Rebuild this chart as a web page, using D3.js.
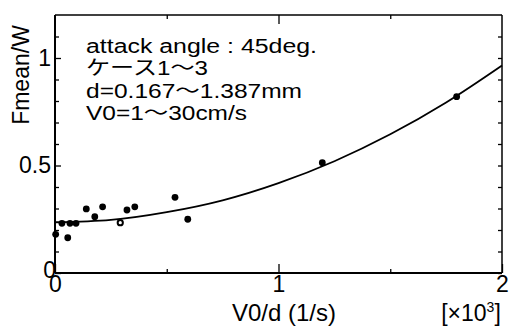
<!DOCTYPE html>
<html>
<head>
<meta charset="utf-8">
<script src="https://cdn.jsdelivr.net/npm/d3@7"></script>
<style>
body { margin: 0; background: #fff; }
text { font-family: "Liberation Sans", Arial, "Noto Sans CJK JP", sans-serif; fill: #000; }
</style>
</head>
<body>
<svg id="viz"></svg>
<script>
var width = 510;
var height = 328;

// measured points, V0/d in [x10^3 1/s]
var pointX = [0.003, 0.031, 0.057, 0.067, 0.094, 0.14, 0.178, 0.213, 0.292, 0.322, 0.357, 0.537, 0.594, 1.196, 1.797];
var pointY = [0.180, 0.231, 0.164, 0.231, 0.231, 0.298, 0.262, 0.308, 0.234, 0.293, 0.308, 0.352, 0.250, 0.513, 0.820];
var hollow = [false, false, false, false, false, false, false, false, true, false, false, false, false, false, false];

// fitted curve
var curveX = [0, 0.25, 0.5, 0.75, 1, 1.25, 1.5, 1.75, 2];
var curveY = [0.236, 0.247, 0.283, 0.338, 0.418, 0.52, 0.645, 0.793, 0.965];

var xMajor = [0, 1, 2];
var xMinor = [0.5, 1.5];
var yMajor = [0, 0.5, 1];
var yMinor = [0.1, 0.2, 0.3, 0.4, 0.6, 0.7, 0.8, 0.9, 1.1];

var notes = ["attack angle : 45deg.", "ケース1〜3", "d=0.167〜1.387mm", "V0=1〜30cm/s"];
// printed widths of the note lines (the source type is a bit wide)
var noteWidth = [231, 122, 216, 161];

var fs = 23;

var svg = d3.select("#viz").attr("width", width).attr("height", height);

var x = d3.scaleLinear().domain([0, 2]).range([55, 502]);
var y = d3.scaleLinear().domain([0, 1.2]).range([273, 15]);

function style(g) {
    g.select(".domain").remove();
    g.selectAll("line").attr("stroke", "#000").attr("stroke-width", 1.3);
    g.selectAll("text").attr("font-size", fs).attr("fill", "#000");
}

// bottom
svg.append("g").attr("transform", "translate(0,273)")
    .call(d3.axisBottom(x).tickValues(xMajor).tickSize(-9).tickPadding(3).tickFormat(d3.format("d")))
    .call(style);
svg.append("g").attr("transform", "translate(0,273)")
    .call(d3.axisBottom(x).tickValues(xMinor).tickSize(-4).tickFormat(""))
    .call(style);
// top
svg.append("g").attr("transform", "translate(0,15)")
    .call(d3.axisTop(x).tickValues([1]).tickSize(-9).tickFormat(""))
    .call(style);
svg.append("g").attr("transform", "translate(0,15)")
    .call(d3.axisTop(x).tickValues(xMinor).tickSize(-4).tickFormat(""))
    .call(style);
// left
var yAxis = svg.append("g").attr("transform", "translate(55,0)")
    .call(d3.axisLeft(y).tickValues(yMajor).tickSize(-6).tickPadding(4).tickFormat(function (d) { return d; }))
    .call(style);
// the y zero sits a little lower and closer to the axis
yAxis.selectAll(".tick").filter(function (d) { return d === 0; }).select("text")
    .attr("x", 1).attr("dy", "0.2em");
svg.append("g").attr("transform", "translate(55,0)")
    .call(d3.axisLeft(y).tickValues(yMinor).tickSize(-4).tickFormat(""))
    .call(style);
// right
svg.append("g").attr("transform", "translate(502,0)")
    .call(d3.axisRight(y).tickValues(yMajor.concat(yMinor)).tickSize(-4).tickFormat(""))
    .call(style);

// frame
svg.append("line").attr("x1", 55).attr("x2", 55).attr("y1", 15).attr("y2", 273).attr("stroke", "#000").attr("stroke-width", 2);
svg.append("line").attr("x1", 55).attr("x2", 502).attr("y1", 273).attr("y2", 273).attr("stroke", "#000").attr("stroke-width", 2);
svg.append("line").attr("x1", 55).attr("x2", 502).attr("y1", 15).attr("y2", 15).attr("stroke", "#000").attr("stroke-width", 1.5);
svg.append("line").attr("x1", 502).attr("x2", 502).attr("y1", 15).attr("y2", 273).attr("stroke", "#000").attr("stroke-width", 1.5);

// curve
var line = d3.line()
    .x(function (d, i) { return x(curveX[i]); })
    .y(function (d, i) { return y(curveY[i]); })
    .curve(d3.curveMonotoneX);
svg.append("path").datum(curveX).attr("d", line)
    .attr("fill", "none").attr("stroke", "#000").attr("stroke-width", 1.8);

// points
svg.append("g").selectAll("circle")
    .data(pointX)
    .enter().append("circle")
    .attr("cx", function (d) { return x(d); })
    .attr("cy", function (d, i) { return y(pointY[i]); })
    .attr("r", function (d, i) { return hollow[i] ? 2.6 : 3.4; })
    .attr("fill", function (d, i) { return hollow[i] ? "#fff" : "#000"; })
    .attr("stroke", "#000")
    .attr("stroke-width", function (d, i) { return hollow[i] ? 2 : 0; });

// annotation
svg.append("g").selectAll("text")
    .data(notes)
    .enter().append("text")
    .attr("x", 86)
    .attr("y", function (d, i) { return 53 + i * 22.4; })
    .attr("font-size", 20)
    .attr("textLength", function (d, i) { return noteWidth[i]; })
    .attr("lengthAdjust", "spacingAndGlyphs")
    .text(function (d) { return d; });

// axis titles
svg.append("text")
    .attr("transform", "translate(29,75) rotate(-90)")
    .attr("text-anchor", "middle")
    .attr("font-size", fs)
    .text("Fmean/W");

svg.append("text")
    .attr("x", 284).attr("y", 321)
    .attr("text-anchor", "middle")
    .attr("font-size", 24)
    .text("V0/d (1/s)");

var unit = svg.append("text")
    .attr("x", 471).attr("y", 321)
    .attr("text-anchor", "middle")
    .attr("font-size", fs);
unit.append("tspan").text("[×10");
unit.append("tspan").attr("font-size", 14).attr("dy", -9).text("3");
unit.append("tspan").attr("dy", 9).text("]");
</script>
</body>
</html>
